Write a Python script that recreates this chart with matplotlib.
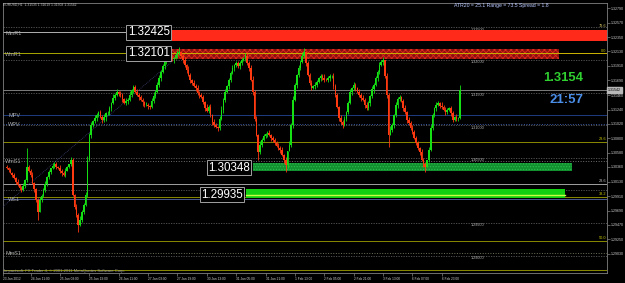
import matplotlib
matplotlib.use("Agg")
import matplotlib.pyplot as plt
from matplotlib.patches import Rectangle

plt.rcParams['font.family'] = ['Liberation Sans', 'DejaVu Sans']
plt.rcParams['hatch.linewidth'] = 0.6

# ---------------- data ----------------
symbol = "EURUSD,H1"
last_ohlc = ["1.31535", "1.31619", "1.31508", "1.31542"]
atr_text = "ATR20 = 25.1 Range = 73.5 Spread = 1.8"
big_price = "1.3154"
countdown = "21:57"
bid = 1.31542

first_bar = 2
first_open = 1.3036
closes = [
    1.3034, 1.3031, 1.3027, 1.3024, 1.3019, 1.3013, 1.3008, 1.3004, 1.3001, 1.3007,
    1.3016, 1.3036, 1.3030, 1.3024, 1.3012, 1.3002, 1.2985, 1.2967, 1.2985, 1.2992,
    1.3001, 1.3010, 1.3020, 1.3028, 1.3034, 1.3038, 1.3041, 1.3036, 1.3034, 1.3030,
    1.3026, 1.3024, 1.3030, 1.3036, 1.3040, 1.3046, 1.2993, 1.2975, 1.2962, 1.2947,
    1.2955, 1.2967, 1.2978, 1.2993, 1.3047, 1.3085, 1.3100, 1.3106, 1.3111, 1.3116,
    1.3120, 1.3113, 1.3108, 1.3112, 1.3118, 1.3119, 1.3126, 1.3134, 1.3142, 1.3146,
    1.3151, 1.3148, 1.3146, 1.3140, 1.3134, 1.3137, 1.3139, 1.3146, 1.3154, 1.3158,
    1.3151, 1.3147, 1.3143, 1.3139, 1.3135, 1.3131, 1.3131, 1.3129, 1.3128, 1.3137,
    1.3145, 1.3151, 1.3162, 1.3172, 1.3182, 1.3190, 1.3197, 1.3203, 1.3206, 1.3204,
    1.3201, 1.3203, 1.3207, 1.3210, 1.3212, 1.3206, 1.3200, 1.3192, 1.3185, 1.3177,
    1.3169, 1.3165, 1.3160, 1.3157, 1.3150, 1.3146, 1.3143, 1.3135, 1.3126, 1.3122,
    1.3128, 1.3115, 1.3105, 1.3100, 1.3097, 1.3096, 1.3110, 1.3123, 1.3138, 1.3151,
    1.3160, 1.3169, 1.3180, 1.3188, 1.3192, 1.3195, 1.3190, 1.3196, 1.3200, 1.3203,
    1.3206, 1.3196, 1.3188, 1.3170, 1.3151, 1.3110, 1.3085, 1.3059, 1.3070, 1.3077,
    1.3083, 1.3086, 1.3088, 1.3085, 1.3080, 1.3077, 1.3073, 1.3068, 1.3065, 1.3062,
    1.3054, 1.3047, 1.3039, 1.3060, 1.3070, 1.3100, 1.3139, 1.3162, 1.3177, 1.3188,
    1.3197, 1.3206, 1.3212, 1.3195, 1.3177, 1.3165, 1.3157, 1.3160, 1.3162, 1.3166,
    1.3172, 1.3175, 1.3173, 1.3170, 1.3169, 1.3172, 1.3175, 1.3175, 1.3160, 1.3146,
    1.3128, 1.3111, 1.3105, 1.3100, 1.3110, 1.3120, 1.3134, 1.3151, 1.3157, 1.3162,
    1.3157, 1.3151, 1.3146, 1.3142, 1.3139, 1.3131, 1.3126, 1.3134, 1.3145, 1.3155,
    1.3162, 1.3172, 1.3182, 1.3192, 1.3197, 1.3200, 1.3175, 1.3146, 1.3085, 1.3093,
    1.3100, 1.3115, 1.3131, 1.3140, 1.3143, 1.3137, 1.3126, 1.3120, 1.3108, 1.3103,
    1.3096, 1.3090, 1.3080, 1.3073, 1.3065, 1.3059, 1.3047, 1.3040, 1.3036, 1.3047,
    1.3062, 1.3096, 1.3115, 1.3126, 1.3131, 1.3134, 1.3130, 1.3128, 1.3124, 1.3120,
    1.3123, 1.3126, 1.3118, 1.3108, 1.3112, 1.3110, 1.3111, 1.3154,
]
# shadow lengths above/below the body, in pips
upper_wick = [
    3, 2, 4, 1, 3, 2, 5, 2, 3, 4,
    2, 0, 3, 2, 4, 1, 2, 3, 5, 2,
    3, 4, 2, 3, 1, 4, 2, 3, 2, 5,
    2, 3, 4, 2, 1, 0, 3, 2, 4, 3,
    5, 3, 2, 4, 6, 3, 5, 2, 4, 3,
    2, 4, 3, 5, 2, 3, 4, 2, 6, 3,
    4, 2, 5, 3, 2, 4, 3, 6, 2, 4,
    3, 5, 2, 4, 3, 2, 5, 3, 2, 4,
    6, 3, 4, 5, 2, 4, 3, 5, 2, 3,
    4, 2, 3, 5, 2, 0, 3, 4, 2, 5,
    3, 2, 4, 3, 5, 2, 3, 4, 2, 6,
    3, 4, 2, 5, 3, 2, 4, 6, 3, 5,
    2, 4, 3, 5, 2, 3, 4, 2, 3, 2,
    0, 4, 3, 5, 6, 3, 4, 2, 5, 3,
    4, 2, 3, 5, 2, 4, 3, 2, 4, 3,
    5, 2, 4, 0, 6, 4, 5, 3, 2, 4,
    3, 5, 2, 0, 4, 3, 5, 2, 4, 3,
    2, 4, 3, 5, 2, 3, 4, 2, 5, 3,
    4, 2, 5, 3, 4, 2, 3, 5, 2, 4,
    3, 2, 4, 3, 5, 2, 4, 3, 2, 5,
    3, 4, 2, 5, 3, 4, 0, 5, 3, 6,
    4, 2, 5, 3, 4, 2, 3, 5, 2, 4,
    3, 5, 2, 4, 3, 2, 5, 3, 4, 0,
    4, 5, 3, 2, 4, 3, 2, 5, 3, 4,
    3, 2, 4, 3, 2, 5, 2, 0,
]
lower_wick = [
    2, 3, 1, 4, 2, 3, 2, 4, 3, 2,
    4, 3, 2, 3, 2, 4, 3, 2, 0, 3,
    2, 3, 4, 2, 3, 2, 4, 3, 2, 3,
    4, 2, 3, 1, 2, 3, 2, 4, 3, 0,
    2, 4, 3, 2, 3, 2, 4, 3, 2, 4,
    3, 2, 4, 3, 5, 2, 3, 4, 2, 3,
    2, 4, 3, 5, 2, 3, 4, 2, 3, 5,
    2, 3, 4, 2, 5, 3, 2, 4, 3, 2,
    3, 4, 2, 3, 5, 2, 4, 3, 2, 4,
    3, 5, 2, 4, 3, 2, 4, 3, 5, 2,
    4, 3, 2, 5, 3, 4, 2, 3, 5, 2,
    3, 2, 4, 3, 2, 5, 3, 2, 4, 3,
    2, 4, 3, 2, 5, 3, 2, 4, 3, 2,
    4, 3, 5, 2, 4, 3, 2, 0, 3, 4,
    2, 3, 4, 2, 5, 3, 4, 2, 3, 4,
    2, 5, 3, 4, 0, 3, 4, 2, 5, 3,
    4, 2, 3, 5, 2, 4, 3, 2, 4, 3,
    2, 5, 3, 4, 2, 3, 5, 2, 4, 3,
    2, 4, 3, 5, 2, 4, 3, 2, 5, 3,
    4, 2, 3, 5, 2, 4, 3, 2, 4, 3,
    5, 2, 4, 3, 2, 5, 3, 4, 2, 0,
    3, 4, 2, 5, 3, 2, 4, 3, 5, 2,
    4, 3, 2, 4, 3, 5, 2, 4, 3, 0,
    3, 2, 4, 3, 5, 2, 4, 3, 2, 4,
    3, 2, 4, 3, 2, 4, 3, 2,
]
spike_highs = {13: 1.3065, 37: 1.3051, 96: 1.3220, 132: 1.3211, 164: 1.3218,
               207: 1.3205, 249: 1.3162}
spike_lows = {19: 1.2955, 41: 1.2936, 139: 1.3047, 154: 1.3028, 210: 1.3066,
              230: 1.3028}

time_labels = ["23 Jan 2012", "24 Jan 11:00", "25 Jan 03:00", "25 Jan 19:00",
               "26 Jan 11:00", "27 Jan 03:00", "27 Jan 19:00", "30 Jan 13:00",
               "31 Jan 05:00", "31 Jan 21:00", "1 Feb 13:00", "2 Feb 05:00",
               "2 Feb 21:00", "3 Feb 13:00", "6 Feb 07:00", "6 Feb 23:00"]
time_ticks = [0, 15, 31, 47, 63, 79, 95, 111, 127, 143, 159, 175, 191, 207, 223, 239]

axis_ticks = [1.32790, 1.32570, 1.32350, 1.32130, 1.31910, 1.31690, 1.31460,
              1.31240, 1.31020, 1.30800, 1.30580, 1.30360, 1.30130, 1.29910,
              1.29690, 1.29470, 1.29250, 1.29030]

pivot_names = ["MmR1", "WmR1", "MPV", "WPV", "WmS1", "WS1", "MmS1"]
pivot_values = [1.32425, 1.32101, 1.31156, 1.31018, 1.30450, 1.29867, 1.29039]
pivot_colors = ["#b0b0b0", "#a8a800", "#1e3c80", "#3a5aa8", "#707070", "#4a5a90", "#70705a"]
pivot_styles = ["-", "-", "-", ":", ":", "-", ":"]

fib_names = ["78.6", "0.0", "23.6", "23.6", "38.2", "50.0"]
fib_values = [1.32475, 1.32101, 1.30743, 1.30097, 1.29902, 1.29223]
fib_colors = ["#d0c060", "#c8c800", "#c8c800", "#c0c0c0", "#c8c800", "#c8c800"]
fib_lines = [1.30743, 1.29902, 1.29223, 1.28778]
gray_line = 1.30097

round_levels = [1.32500, 1.32000, 1.31500, 1.31000, 1.30500, 1.30000, 1.29500, 1.29000]

zone_labels = ["1.32425", "1.32101", "1.30348", "1.29935"]
zone_values = [1.32425, 1.32101, 1.30348, 1.29935]
zone_tops = [1.32460, 1.32168, 1.30420, 1.30021]
zone_bottoms = [1.32291, 1.32015, 1.30297, 1.29883]
zone_starts = [92.3, 92.3, 136.0, 132.2]
zone_ends = [329.0, 302.7, 310.0, 306.0]

trend_x = [0, 93]
trend_y = [1.2975, 1.3200]

PIP = 0.0001

# ---------------- figure ----------------
W, H = 625, 283
fig = plt.figure(figsize=(W / 100, H / 100), dpi=100, facecolor="black")
ax = fig.add_axes([3 / W, (H - 273) / H, 604 / W, 270 / H])
ax.set_facecolor("black")
ax.set_xlim(0, 329)
ax.set_ylim(1.28732, 1.32874)

ytr = ax.get_yaxis_transform()

# round-number lines and labels
for lv in round_levels:
    ax.axhline(lv, color="#5a5a5a", lw=0.6, ls=(0, (1.5, 1.5)), zorder=1)
    ax.text(255, lv - 0.00008, f"{lv:.5f}", color="#b8b8b8",
            fontsize=2.7, ha="left", va="top", zorder=1)

# pivot lines
for name, v, c, s in zip(pivot_names, pivot_values, pivot_colors, pivot_styles):
    ax.axhline(v, color=c, lw=0.7, ls=s, zorder=2)
    ax.text(0.009 if name in ("MPV", "WPV", "WS1") else 0.004, v - 0.00012, name,
            transform=ytr, color="#a8a8a8", fontsize=4, ha="left", va="center", zorder=6)

# fib lines
for v in fib_lines:
    ax.axhline(v, color="#8a8a00", lw=0.7, zorder=2)
ax.axhline(gray_line, color="#a0a0a0", lw=0.7, zorder=2)
for name, v, c in zip(fib_names, fib_values, fib_colors):
    ax.text(0.9985, v + 0.00008, name, transform=ytr, color=c, fontsize=2.8,
            ha="right", va="bottom", zorder=6)

# bid line
ax.axhline(bid, color="#909090", lw=0.6, zorder=2)

# zones
zone_styles = [
    dict(facecolor="#ff2a1a", edgecolor="#ff2a1a", hatch=None),
    dict(facecolor="#8a1010", edgecolor="#e02a1a", hatch="xxxxxx"),
    dict(facecolor="#129030", edgecolor="#2aba4a", hatch="......"),
    dict(facecolor="#10d010", edgecolor="#10d010", hatch=None),
]
for top, bot, x0, x1, st in zip(zone_tops, zone_bottoms, zone_starts, zone_ends, zone_styles):
    r = Rectangle((x0, bot), x1 - x0, top - bot, lw=0, zorder=3, **st)
    ax.add_patch(r)
ax.plot([zone_starts[3], zone_ends[3]], [zone_values[3], zone_values[3]],
        color="#c8ff40", lw=1.0, zorder=4)
ax.plot([zone_starts[1], 329], [zone_values[1], zone_values[1]],
        color="#c8b000", lw=0.7, zorder=4)

# trend line
ax.plot(trend_x, trend_y, color="#3a4070", lw=0.6, ls=(0, (1, 1.2)), zorder=4)

# candles
opens = [first_open] + closes[:-1]
for k, (o, c) in enumerate(zip(opens, closes)):
    i = first_bar + k
    up = c >= o
    col = "#14e014" if up else "#ff3a10"
    lo = min(o, c)
    hi = max(o, c)
    h_ = max(spike_highs.get(i, hi), hi + upper_wick[k] * PIP)
    l_ = min(spike_lows.get(i, lo), lo - lower_wick[k] * PIP)
    ax.vlines(i, l_, h_, color=col, lw=0.6, zorder=5)
    ax.bar(i, max(hi - lo, 0.00004), bottom=lo, width=0.85, color=col, lw=0, zorder=5)

# zone labels
for lab, v, x0 in zip(zone_labels, zone_values, zone_starts):
    ax.text(x0 - 1.5, v, lab, color="white", fontsize=8.4, ha="right", va="center",
            zorder=7,
            bbox=dict(boxstyle="square,pad=0.12", facecolor="black",
                      edgecolor="#a0a0a0", lw=0.7))

# axes styling
for sp in ax.spines.values():
    sp.set_color("#808080")
    sp.set_linewidth(0.6)
ax.yaxis.tick_right()
ax.set_yticks(axis_ticks)
ax.set_yticklabels([f"{t:.5f}" for t in axis_ticks])
ax.tick_params(axis="y", colors="#808080", labelcolor="#d0d0d0", labelsize=2.6,
               length=2, width=0.5, pad=1)
ax.set_xticks(time_ticks)
ax.set_xticklabels(time_labels)
ax.tick_params(axis="x", colors="#808080", labelcolor="#d0d0d0", labelsize=2.3,
               length=2, width=0.5, pad=1)
for lbl in ax.get_xticklabels():
    lbl.set_ha("left")

# current price box on axis
ax.text(1.002, bid, f"{bid:.5f}", transform=ytr, fontsize=2.6, color="black",
        ha="left", va="center", zorder=8,
        bbox=dict(boxstyle="square,pad=0.2", facecolor="#b8b8b8", edgecolor="#b8b8b8"),
        clip_on=False)

# header / overlay texts
fig.text(3 / W, 1 - 5 / H, symbol + "  " + " ".join(last_ohlc), color="#c0c0c0",
         fontsize=2.4, ha="left", va="center")
fig.text(501 / W, 1 - 5 / H, atr_text, color="#b8c8ff", fontsize=3.7,
         ha="center", va="center")
fig.text(583 / W, 1 - 78 / H, big_price, color="#30d030", fontsize=9.4,
         fontweight="bold", ha="right", va="center")
fig.text(583 / W, 1 - 100 / H, countdown, color="#4a8ee8", fontsize=9.5,
         fontweight="bold", ha="right", va="center")
fig.text(4 / W, 1 - 271 / H, "Impactsoft: FX Trader 4, \u00a9 2001-2011 MetaQuotes Software Corp.",
         color="#a0a0a0", fontsize=3.0, ha="left", va="center")

fig.savefig("out.png", dpi=100, facecolor="black")
